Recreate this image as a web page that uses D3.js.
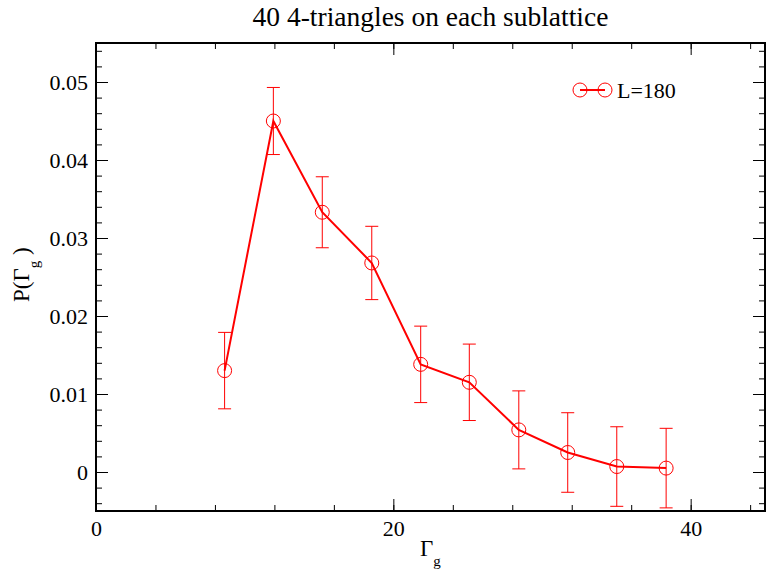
<!DOCTYPE html>
<html lang="en">
<head>
    <meta charset="UTF-8">
    <title>P(Gamma_g)</title>
    <style>
        body { margin: 0; background: #fff; }
        svg text { font-family: "Liberation Serif", "Times New Roman", Times, "DejaVu Serif", serif; fill: #000; }
    </style>
</head>
<body>
    <div class="container"></div>
    <script src="https://cdn.jsdelivr.net/npm/d3@7/dist/d3.min.js"></script>
    <script>
        // Data
        const gammaValues = [8.65, 11.93, 15.22, 18.55, 21.84, 25.11, 28.44, 31.73, 35.03, 38.35]
        const probValues = [0.0130, 0.0450, 0.0333, 0.0268, 0.0138, 0.0115, 0.0054, 0.0025, 0.0007, 0.0005]
        const errValues = [0.0049, 0.0043, 0.00455, 0.0047, 0.0049, 0.0049, 0.0050, 0.0051, 0.0051, 0.0051]
        const xTicks = [0, 20, 40]
        const yTicks = [0, 0.01, 0.02, 0.03, 0.04, 0.05]
        const seriesName = "L=180"

        const width = 766
        const height = 570
        const margin = {top: 43, right: 1, bottom: 59, left: 96}
        const chartWidth = width - margin.left - margin.right
        const chartHeight = height - margin.top - margin.bottom
        const red = "#ff0000"
        const serif = '"Liberation Serif", "Times New Roman", Times, "DejaVu Serif", serif'

        const svg = d3.select(".container")
                    .append("svg")
                    .attr("width", width)
                    .attr("height", height)

        const chart = svg.append("g")
                    .attr("transform", `translate(${margin.left},${margin.top})`)

        const xScale = d3.scaleLinear().domain([0, 45]).range([0, chartWidth])
        const yScale = d3.scaleLinear().domain([-0.005, 0.055]).range([chartHeight, 0])

        const xMinor = d3.range(0, 45.01, 4)
        const yMinor = d3.range(-0.004, 0.0551, 0.002)

        // ticks pointing inward on all four sides
        function styleAxis(g) {
            g.attr("font-family", serif)
            g.select(".domain").remove()
            g.selectAll(".tick line").attr("stroke", "#000").attr("stroke-width", 1)
            g.selectAll(".tick text").attr("font-size", 22).attr("fill", "#000")
        }

        chart.append("g").attr("transform", `translate(0,${chartHeight})`)
            .call(d3.axisBottom(xScale).tickValues(xMinor).tickSize(-6).tickFormat(""))
            .call(styleAxis)
        chart.append("g").attr("transform", `translate(0,${chartHeight})`)
            .call(d3.axisBottom(xScale).tickValues(xTicks).tickSize(-12).tickPadding(9).tickFormat(d3.format("d")))
            .call(styleAxis)
        chart.append("g")
            .call(d3.axisTop(xScale).tickValues(xMinor).tickSize(-6).tickFormat(""))
            .call(styleAxis)
        chart.append("g")
            .call(d3.axisTop(xScale).tickValues(xTicks).tickSize(-12).tickFormat(""))
            .call(styleAxis)

        chart.append("g")
            .call(d3.axisLeft(yScale).tickValues(yMinor).tickSize(-6).tickFormat(""))
            .call(styleAxis)
        chart.append("g")
            .call(d3.axisLeft(yScale).tickValues(yTicks).tickSize(-12).tickPadding(8).tickFormat(d => d === 0 ? "0" : d3.format(".2f")(d)))
            .call(styleAxis)
        chart.append("g").attr("transform", `translate(${chartWidth},0)`)
            .call(d3.axisRight(yScale).tickValues(yMinor).tickSize(-6).tickFormat(""))
            .call(styleAxis)
        chart.append("g").attr("transform", `translate(${chartWidth},0)`)
            .call(d3.axisRight(yScale).tickValues(yTicks).tickSize(-12).tickFormat(""))
            .call(styleAxis)

        // frame
        chart.append("rect")
            .attr("width", chartWidth)
            .attr("height", chartHeight)
            .attr("fill", "none")
            .attr("stroke", "#000")
            .attr("stroke-width", 2)

        const points = gammaValues.map((g, i) => ({x: g, y: probValues[i], e: errValues[i]}))

        // error bars
        const capHalf = 6.5
        const errG = chart.append("g").attr("stroke", red).attr("stroke-width", 1)
        points.forEach(p => {
            const cx = xScale(p.x)
            errG.append("line").attr("x1", cx).attr("x2", cx)
                .attr("y1", yScale(p.y + p.e)).attr("y2", yScale(p.y - p.e))
            errG.append("line").attr("x1", cx - capHalf).attr("x2", cx + capHalf)
                .attr("y1", yScale(p.y + p.e)).attr("y2", yScale(p.y + p.e))
            errG.append("line").attr("x1", cx - capHalf).attr("x2", cx + capHalf)
                .attr("y1", yScale(p.y - p.e)).attr("y2", yScale(p.y - p.e))
        })

        const line = d3.line().x(d => xScale(d.x)).y(d => yScale(d.y))
        chart.append("path")
            .datum(points)
            .attr("d", line)
            .attr("fill", "none")
            .attr("stroke", red)
            .attr("stroke-width", 2)

        chart.selectAll(".pt")
            .data(points)
            .join("circle")
            .attr("class", "pt")
            .attr("cx", d => xScale(d.x))
            .attr("cy", d => yScale(d.y))
            .attr("r", 7)
            .attr("fill", "none")
            .attr("stroke", red)
            .attr("stroke-width", 1)

        // legend
        const legend = svg.append("g").attr("transform", "translate(580,90)")
        legend.append("line").attr("x1", 0).attr("x2", 25).attr("y1", 0).attr("y2", 0)
            .attr("stroke", red).attr("stroke-width", 2)
        legend.selectAll("circle").data([0, 25]).join("circle")
            .attr("cx", d => d).attr("cy", 0).attr("r", 7)
            .attr("fill", "none").attr("stroke", red)
        legend.append("text").attr("x", 37).attr("y", 8).attr("font-size", 22)
            .attr("font-family", serif).text(seriesName)

        // title
        svg.append("text")
            .attr("x", margin.left + chartWidth / 2)
            .attr("y", 26)
            .attr("text-anchor", "middle")
            .attr("font-size", 27.5)
            .attr("font-family", serif)
            .text("40 4-triangles on each sublattice")

        // x label
        const xLabel = svg.append("text")
            .attr("x", 420)
            .attr("y", 556)
            .attr("font-size", 23)
            .attr("font-family", serif)
        xLabel.append("tspan").text("Γ")
        xLabel.append("tspan").attr("dy", 10).attr("font-size", 15).text("g")

        // y label
        const yLabel = svg.append("text")
            .attr("transform", `translate(29,302) rotate(-90)`)
            .attr("font-size", 23)
            .attr("font-family", serif)
        yLabel.append("tspan").text("P(Γ")
        yLabel.append("tspan").attr("dy", 10).attr("font-size", 15).text("g")
        yLabel.append("tspan").attr("dy", -10).text(" )")
    </script>
</body>
</html>
